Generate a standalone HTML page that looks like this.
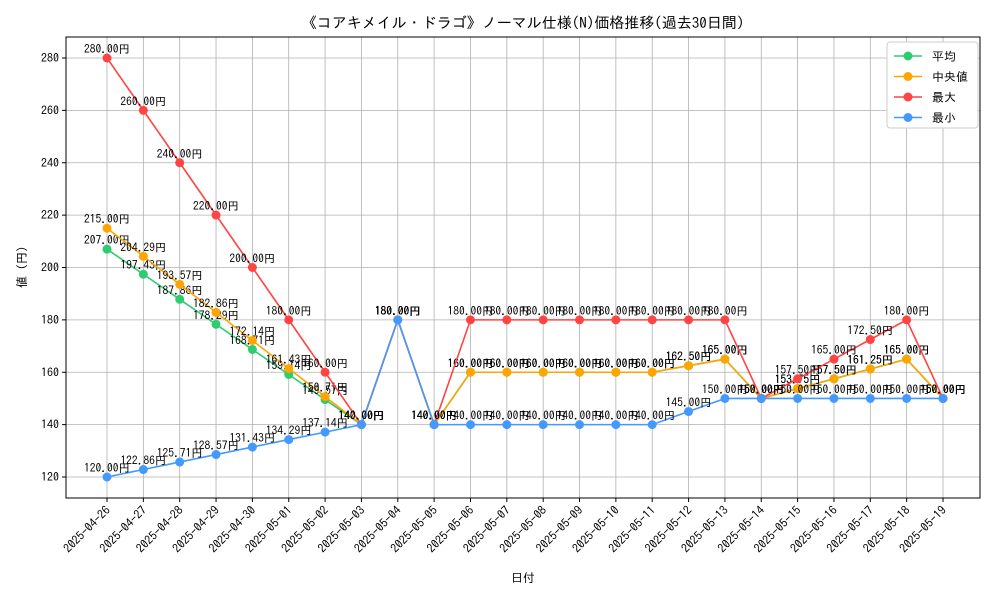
<!DOCTYPE html>
<html><head><meta charset="utf-8"><style>
body{margin:0;background:#fff;font-family:"IPAGothic","Noto Sans CJK JP",sans-serif}
svg text{font-family:"IPAGothic","Noto Sans CJK JP",sans-serif}
</style></head><body>
<svg id="chart" width="1000" height="600" xmlns="http://www.w3.org/2000/svg">
<rect width="1000" height="600" fill="#fff"/>
<text x="523" y="28" font-size="15" text-anchor="middle">《コアキメイル・ドラゴ》ノーマル仕様(N)価格推移(過去30日間)</text>
<g id="grid"></g><g id="axes"></g><g id="series"></g>
<text x="523" y="582" font-size="12" text-anchor="middle">日付</text>
<text transform="translate(26,267) rotate(-90)" font-size="12" text-anchor="middle">値 (円)</text>
<g id="legend"></g>
</svg>
<script>
const dates=["2025-04-26","2025-04-27","2025-04-28","2025-04-29","2025-04-30","2025-05-01","2025-05-02","2025-05-03","2025-05-04","2025-05-05","2025-05-06","2025-05-07","2025-05-08","2025-05-09","2025-05-10","2025-05-11","2025-05-12","2025-05-13","2025-05-14","2025-05-15","2025-05-16","2025-05-17","2025-05-18","2025-05-19"];
const meanVals=[207,197.43,187.86,178.29,168.71,159.14,149.57,140,180,140,160,160,160,160,160,160,162.5,165,150,153.75,157.5,161.25,165,150];
const medianVals=[215,204.29,193.57,182.86,172.14,161.43,150.71,140,180,140,160,160,160,160,160,160,162.5,165,150,153.75,157.5,161.25,165,150];
const maxVals=[280,260,240,220,200,180,160,140,180,140,180,180,180,180,180,180,180,180,150,157.5,165,172.5,180,150];
const minVals=[120,122.86,125.71,128.57,131.43,134.29,137.14,140,180,140,140,140,140,140,140,140,145,150,150,150,150,150,150,150];
const yTicks=[120,140,160,180,200,220,240,260,280];
const seriesNames=["平均","中央値","最大","最小"];
const NS="http://www.w3.org/2000/svg";
const L=66,R=980,T=37,B=498;
const x=i=>107+i*(943-107)/(dates.length-1);
const y=v=>477-(v-120)*(477-58)/160;
function mk(tag,attrs,parent){const e=document.createElementNS(NS,tag);for(const k in attrs)e.setAttribute(k,attrs[k]);parent.appendChild(e);return e;}
const grid=document.getElementById('grid'),axes=document.getElementById('axes'),ser=document.getElementById('series'),leg=document.getElementById('legend');
dates.forEach((d,i)=>{
 const g=mk('line',{x1:x(i),x2:x(i),y1:T,y2:B,stroke:'#b0b0b0','stroke-width':0.8},grid);
 
 mk('line',{x1:x(i),x2:x(i),y1:B,y2:B+4,stroke:'#000'},axes);
 const t=mk('text',{'font-size':12,'text-anchor':'end',transform:`translate(${x(i)+4},${B+13}) rotate(-45)`},axes);
 t.textContent=d;
 
});
yTicks.forEach(v=>{
 const g=mk('line',{x1:L,x2:R,y1:y(v),y2:y(v),stroke:'#b0b0b0','stroke-width':0.8},grid);
 
 mk('line',{x1:L-4,x2:L,y1:y(v),y2:y(v),stroke:'#000'},axes);
 const t=mk('text',{x:L-7,y:y(v)+4,'font-size':12,'text-anchor':'end'},axes);
 t.textContent=v;
 
});
const fr=mk('rect',{x:L,y:T,width:R-L,height:B-T,fill:'none',stroke:'#000','stroke-width':1},axes);

const all=[meanVals,medianVals,maxVals,minVals];
const colors=['#2ecc71','#ffa500','#ff4444','#4499ff'];
const keys=['mean','median','max','min'];
all.forEach((vals,s)=>{
 const g=mk('g',{},ser);
 
 const p=mk('polyline',{points:vals.map((v,i)=>x(i)+','+y(v)).join(' '),fill:'none',stroke:colors[s],'stroke-width':1.6},g);
 
 vals.forEach((v,i)=>{
  const c=mk('circle',{cx:x(i),cy:y(v),r:4.5,fill:colors[s]},g);
  
  const t=mk('text',{x:x(i),y:y(v)-5,'font-size':11.5,'text-anchor':'middle'},g);
  t.textContent=v.toFixed(2)+'円';
  
 });
});
const lb=mk('rect',{x:887,y:42,width:91,height:86,fill:'#fff',stroke:'#ccc',rx:3},leg);

seriesNames.forEach((n,s)=>{
 const g=mk('g',{},leg);
 
 const yy=56+s*20.5;
 mk('line',{x1:894,x2:922,y1:yy,y2:yy,stroke:colors[s],'stroke-width':1.6},g);
 mk('circle',{cx:908,cy:yy,r:4.5,fill:colors[s]},g);
 const t=mk('text',{x:932,y:yy+4.5,'font-size':12},g);t.textContent=n;
});
</script>
</body></html>
